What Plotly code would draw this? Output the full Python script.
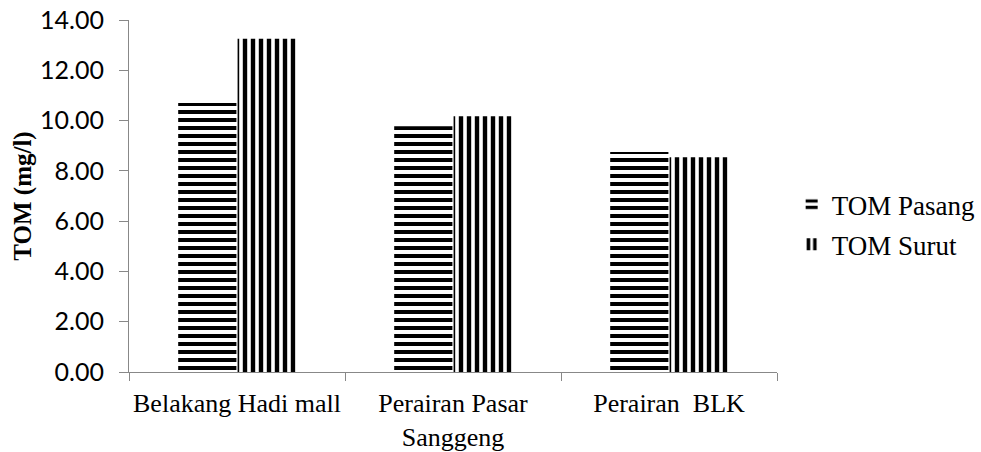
import plotly.graph_objects as go

# Total organic matter per sampling site, high tide vs low tide
sites = ["Belakang Hadi mall", "Perairan Pasar<br>Sanggeng", "Perairan\u00a0 BLK"]
tom_pasang = [10.70, 9.77, 8.75]
tom_surut = [13.25, 10.17, 8.54]
y_ticks = [0, 2, 4, 6, 8, 10, 12, 14]

serif = "Liberation Serif"
sans = "Lato"

fig = go.Figure()
fig.add_trace(go.Bar(
    x=sites, y=tom_pasang, name="TOM Pasang", legendgroup="pasang",
    marker=dict(color="white", line=dict(width=0),
                pattern=dict(shape="-", fgcolor="black", bgcolor="white",
                             fgopacity=1, size=8, solidity=0.5)),
))
fig.add_trace(go.Bar(
    x=sites, y=tom_surut, name="TOM Surut", legendgroup="surut",
    marker=dict(color="white", line=dict(width=0),
                pattern=dict(shape="|", fgcolor="black", bgcolor="white",
                             fgopacity=1, size=8, solidity=0.55)),
))

fig.update_layout(
    width=981, height=452,
    margin=dict(l=129, r=204, t=20, b=80, autoexpand=False),
    paper_bgcolor="white", plot_bgcolor="white",
    barmode="group", bargap=0.45, bargroupgap=0.02,
    showlegend=True,
    legend=dict(xref="container", yref="container", x=0.807, y=0.503,
                xanchor="left", yanchor="middle",
                font=dict(family=serif, size=27, color="black"),
                tracegroupgap=2, itemwidth=30),
    font=dict(family=serif, color="black"),
)
fig.update_xaxes(
    showline=True, linecolor="#888888", linewidth=1,
    ticks="outside", tickson="boundaries", ticklen=8, tickcolor="#888888",
    tickangle=0, automargin=False, ticklabelstandoff=8,
    tickfont=dict(family=serif, size=26, color="black"),
    showgrid=False,
)
fig.update_yaxes(
    range=[0, 14], tickvals=y_ticks, tickformat=".2f",
    showline=True, linecolor="#888888", linewidth=1,
    ticks="outside", ticklen=9, tickcolor="#888888", ticklabelstandoff=10,
    automargin=False,
    tickfont=dict(family=sans, size=25, color="black"),
    showgrid=False, zeroline=False,
    title=dict(text="<b>TOM (mg/l)</b>", font=dict(family=serif, size=25, color="black"),
               standoff=1),
)

fig.write_html("out.html")
